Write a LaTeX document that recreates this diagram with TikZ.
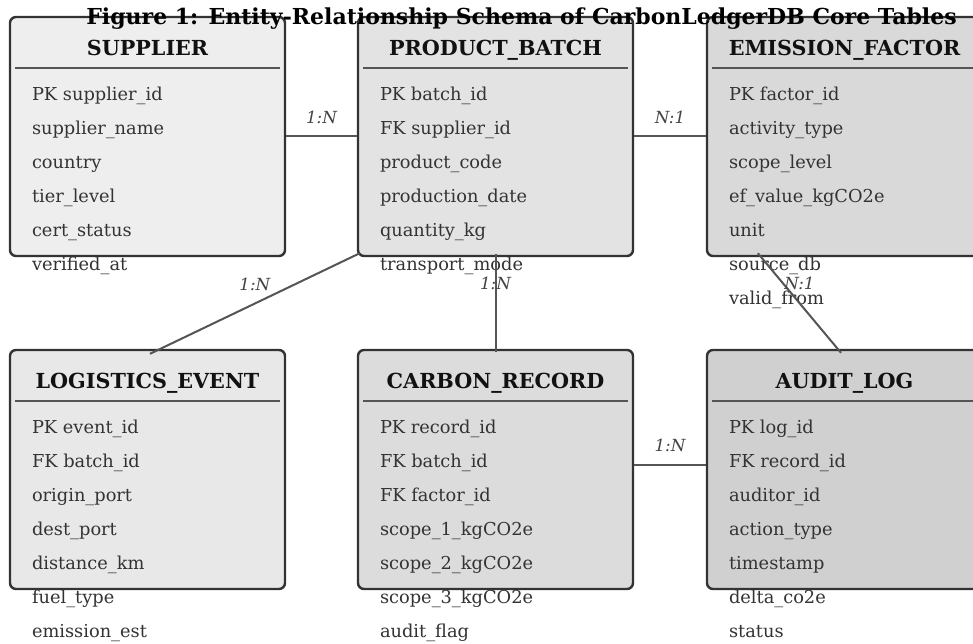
\documentclass[tikz,border=0pt]{standalone}
\usepackage{fontspec}
\setmainfont{DejaVu Serif}
\usetikzlibrary{calc}
\definecolor{boxedge}{HTML}{333333}
\definecolor{connclr}{HTML}{555555}
\definecolor{rowclr}{HTML}{333333}
\definecolor{headclr}{HTML}{111111}
\definecolor{lblclr}{HTML}{444444}
\definecolor{fillA}{HTML}{EEEEEE}
\definecolor{fillB}{HTML}{E3E3E3}
\definecolor{fillC}{HTML}{D9D9D9}
\definecolor{fillD}{HTML}{E8E8E8}
\definecolor{fillE}{HTML}{DCDCDC}
\definecolor{fillF}{HTML}{D0D0D0}
\tikzset{
  entity/.style={draw=boxedge, line width=2.4pt, rounded corners=6pt, minimum width=275pt, minimum height=239pt, inner sep=0pt},
  headtext/.style={font=\fontsize{20.7}{23}\selectfont\bfseries, text=headclr, inner sep=0pt},
  rowtext/.style={font=\fontsize{17.8}{20}\selectfont, text=rowclr, inner sep=0pt},
  sepline/.style={draw=connclr, line width=1.5pt},
  conn/.style={draw=connclr, line width=2pt},
  lbl/.style={midway, yshift=19.5pt, font=\fontsize{16.7}{19}\selectfont\itshape, text=lblclr, inner sep=0pt},
  titletext/.style={font=\fontsize{22}{24}\selectfont\bfseries, text=black, inner sep=0pt}
}
\newcommand\erentity[6]{%
  \node[entity, fill=#4] (#1) at (#2,#3) {};
  \node[headtext, anchor=base] (#1-h) at ($(#1.north)+(0,40)$) {#5};
  \draw[sepline] ($(#1.north west)+(6,52)$) -- ($(#1.north east)+(-6,52)$);
  \foreach \r [count=\i from 0] in {#6} {
    \node[rowtext, anchor=base west] (#1-r\i) at ($(#1.north west)+(23,84.5+34*\i)$) {\r};
  }
}
\begin{document}
\begin{tikzpicture}[x=1pt,y=-1pt]
\fill[white] (0,0) rectangle (973,644);
\useasboundingbox (0,0) rectangle (973,644);
\erentity{sup}{147.5}{136.5}{fillA}{SUPPLIER}{PK supplier\_id, supplier\_name, country, tier\_level, cert\_status, verified\_at}
\erentity{pb}{495.5}{136.5}{fillB}{PRODUCT\_BATCH}{PK batch\_id, FK supplier\_id, product\_code, production\_date, quantity\_kg, transport\_mode}
\erentity{ef}{844.5}{136.5}{fillC}{EMISSION\_FACTOR}{PK factor\_id, activity\_type, scope\_level, ef\_value\_kgCO2e, unit, source\_db, valid\_from}
\erentity{le}{147.5}{469.5}{fillD}{LOGISTICS\_EVENT}{PK event\_id, FK batch\_id, origin\_port, dest\_port, distance\_km, fuel\_type, emission\_est}
\erentity{cr}{495.5}{469.5}{fillE}{CARBON\_RECORD}{PK record\_id, FK batch\_id, FK factor\_id, scope\_1\_kgCO2e, scope\_2\_kgCO2e, scope\_3\_kgCO2e, audit\_flag}
\erentity{al}{844.5}{469.5}{fillF}{AUDIT\_LOG}{PK log\_id, FK record\_id, auditor\_id, action\_type, timestamp, delta\_co2e, status}
\draw[conn] (sup.east) -- node[lbl] {1:N} (pb.west);
\draw[conn] (pb.east) -- node[lbl] {N:1} (ef.west);
\draw[conn] ($(pb.south west)+(3,-4)$) -- node[lbl] {1:N} ($(le.north)+(2.5,5)$);
\draw[conn] ($(pb.south)+(0,-3)$) -- node[lbl] {1:N} ($(cr.north)+(0,3)$);
\draw[conn] ($(ef.south west)+(52,-4)$) -- node[lbl] {N:1} ($(al.north)+(-3.5,4)$);
\draw[conn] ($(cr.east)+(0,-5)$) -- node[lbl] {1:N} ($(al.west)+(0,-5)$);
\node[titletext, anchor=base] (title) at (521.5,25) {Figure 1: Entity-Relationship Schema of CarbonLedgerDB Core Tables};
\end{tikzpicture}
\end{document}
